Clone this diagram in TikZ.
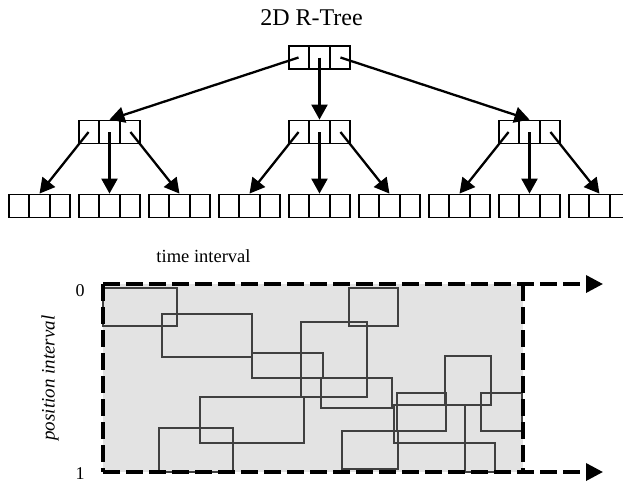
\documentclass[tikz,border=0pt]{standalone}
\usepackage{fontspec}
\setmainfont{Liberation Serif}
\usetikzlibrary{arrows.meta,calc}

\begin{document}
\begin{tikzpicture}[x=1pt,y=-1pt,
  box/.style={draw,line width=1.8pt,minimum width=61pt,minimum height=23pt,inner sep=0pt,
    path picture={\foreach \k in {1,2}
      \draw[line width=1.8pt] ($(path picture bounding box.north west)!\k/3!(path picture bounding box.north east)$)
        -- ($(path picture bounding box.south west)!\k/3!(path picture bounding box.south east)$);}},
  link/.style={line width=2.3pt,-{Triangle[length=15pt,width=16pt]}},
  frame/.style={line width=3.5pt,dash pattern=on 17pt off 6pt},
  mbr/.style={draw=black!75,line width=1.3pt}]
\clip (0,0) rectangle (623,483);

\node[font=\fontsize{24}{28}\selectfont,anchor=base] (title) at (311.5,25) {2D R-Tree};
\node[box] (root) at (319.5,57.5) {};
\node[box] (m1) at (109.5,132) {};
\node[box] (m2) at (319.5,132) {};
\node[box] (m3) at (529.5,132) {};
\foreach \i in {1,...,9}
  \node[box] (l\i) at (-30.5+70*\i,206) {};

\foreach \k/\f in {1/1,2/3,3/5}
  \draw[link] ($(root.west)!\f/6!(root.east)$) -- (m\k.north);
\foreach \j in {1,2,3}
  \foreach \k/\f in {1/1,2/3,3/5}{
    \pgfmathtruncatemacro\n{3*(\j-1)+\k}
    \draw[link] ($(m\j.west)!\f/6!(m\j.east)$) -- (l\n.north);
  }

\node[font=\fontsize{18.5}{22}\selectfont,anchor=base] (time) at (203.5,262) {time interval};
\node[font=\fontsize{18}{22}\selectfont,anchor=base] (zero) at (80,296) {0};
\node[font=\fontsize{18}{22}\selectfont,anchor=base] (one) at (80,479) {1};
\node[font=\itshape\fontsize{19}{22}\selectfont,rotate=90] (pos) at (50,378) {position interval};

\coordinate (tl) at (103,284);
\coordinate (tr) at (523,284);
\coordinate (bl) at (103,472);
\coordinate (br) at (523,472);
\coordinate (te) at (603,284);
\coordinate (be) at (603,472);
\fill[black!11] (tl) rectangle (br);
\foreach \xa/\ya/\xb/\yb in {103/288/177/326,162/314/252/357,252/353/323/378,301/322/367/397,
  321/378/392/408,349/288/398/326,200/397/304/443,159/428/233/472,342/431/398/469,
  445/356/491/405,481/393/522/431,397/393/446/431,394/405/465/443,465/443/495/472}
  \draw[mbr] (\xa,\ya) rectangle (\xb,\yb);
\draw[frame] (tl) -- (bl);
\draw[frame] (tr) -- (br);
\draw[frame,-{Triangle[length=17pt,width=17pt]}] (tl) -- (te);
\draw[frame,-{Triangle[length=17pt,width=17pt]}] (bl) -- (be);
\end{tikzpicture}
\end{document}
